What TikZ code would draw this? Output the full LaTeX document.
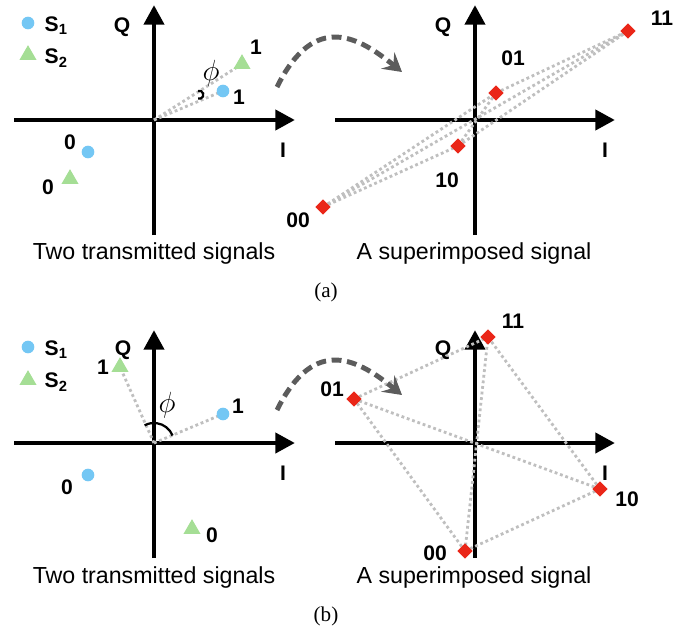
\documentclass[tikz,border=0pt]{standalone}
\usepackage{fontspec}
\setmainfont{Liberation Sans}
\newfontfamily\capfont{Liberation Serif}
\usepackage{xcolor}
\usetikzlibrary{
  arrows.meta,
  shapes.geometric,
  positioning
}
\definecolor{skyblue}{HTML}{74C7F4}
\definecolor{leafgreen}{HTML}{A5DE95}
\definecolor{symred}{HTML}{EA2618}
\definecolor{arrowgray}{HTML}{5C5C5C}
\pgfdeclarelayer{axes}
\pgfdeclarelayer{links}
\pgfsetlayers{axes,links,main}
\newcommand{\sub}[2]{#1\textsubscript{#2}}
\tikzset{
  iq axis/.style={
    line width=3.5pt, -{Triangle[length=14pt, width=14pt]}
  },
  pair line/.style={
    draw=gray!50, line width=2pt, dash pattern=on 2pt off 2pt
  },
  sig one/.style={
    circle, fill=skyblue, minimum size=9pt, inner sep=0pt
  },
  sig two/.style={
    regular polygon, regular polygon sides=3,
    fill=leafgreen, minimum size=14pt, inner sep=0pt
  },
  sym/.style={
    diamond, fill=symred, minimum size=11pt, inner sep=0pt
  },
  bit label/.style={
    font=\fontsize{15}{18}\selectfont\bfseries, inner sep=1pt
  },
  angle label/.style={
    font=\fontsize{20}{24}\selectfont, inner sep=1pt
  },
  map arrow/.style={
    -{Stealth[length=13pt, width=15pt, inset=5pt]},
    line width=3.5pt, draw=arrowgray, dash pattern=on 7pt off 4pt
  },
  caption/.style={
    font=\fontsize{16.5}{20}\selectfont
  },
}

\begin{document}
\begin{tikzpicture}[x=0.025cm, y=-0.025cm]
  \useasboundingbox (0,0) rectangle (697,631);

  % ---------------- (a) ----------------
  % Axes of both planes
  \begin{pgfonlayer}{axes}
    \draw[iq axis] (14,120) -- (295,120);
    \draw[iq axis] (154,235) -- (154,5);
    \draw[iq axis] (335,120) -- (615,120);
    \draw[iq axis] (475,235) -- (475,5);
  \end{pgfonlayer}
  \coordinate (oA) at (154,120);
  \node[bit label] (qA) at (122,27) {Q};
  \node[bit label] (iA) at (283,150) {I};
  \node[bit label] (qA2) at (443,27) {Q};
  \node[bit label] (iA2) at (605,150) {I};

  % Legend
  \node[sig one] (keyA1) at (28,23) {};
  \node[bit label, anchor=west] at (43,26) {\sub{S}{1}};
  \node[sig two] (keyA2) at (28,55) {};
  \node[bit label, anchor=west] at (43,58) {\sub{S}{2}};

  % Transmitted symbols
  \node[sig one] (sA1) at (223,91) {};
  \node[sig two] (tA1) at (242,64) {};
  \node[sig one] (sA0) at (88,152) {};
  \node[sig two] (tA0) at (70,179) {};
  \node[bit label] (lsA1) at (239,97) {1};
  \node[bit label] (ltA1) at (256,47) {1};
  \node[bit label] (lsA0) at (70,142) {0};
  \node[bit label] (ltA0) at (48,187) {0};
  \begin{pgfonlayer}{links}
    \draw[pair line] (oA) -- (sA1.center);
    \draw[pair line] (oA) -- (tA1.center);
  \end{pgfonlayer}
  \draw[line width=1.6pt] (198,91) arc[start angle=-110, end angle=110, radius=4];
  \node[angle label] (phiA) at (211,73) {$\phi$};

  % Superimposed symbols
  \node[sym] (dA11) at (628,31) {};
  \node[sym] (dA01) at (496,93) {};
  \node[sym] (dA10) at (458,146) {};
  \node[sym] (dA00) at (323,207) {};
  \node[bit label] (lA11) at (662,18) {11};
  \node[bit label] (lA01) at (513,58) {01};
  \node[bit label] (lA10) at (447,180) {10};
  \node[bit label] (lA00) at (298,220) {00};
  \begin{pgfonlayer}{links}
    \draw[pair line] (dA00.center) -- (dA01.center);
    \draw[pair line] (dA00.center) -- (dA10.center);
    \draw[pair line] (dA00.center) -- (dA11.center);
    \draw[pair line] (dA01.center) -- (dA10.center);
    \draw[pair line] (dA01.center) -- (dA11.center);
    \draw[pair line] (dA10.center) -- (dA11.center);
  \end{pgfonlayer}

  % Mapping arrow
  \coordinate (fromA) at (277,87);
  \coordinate (toA) at (402,72);
  \draw[map arrow] (fromA) .. controls (315,10) and (360,38) .. (toA);

  \node[caption] (capA1) at (154,253) {Two transmitted signals};
  \node[caption] (capA2) at (474,253) {A superimposed signal};
  \node[font=\capfont\fontsize{15}{18}\selectfont] (tagA) at (326,292) {(a)};

  % ---------------- (b) ----------------
  \begin{scope}[shift={(0,323)}]
    \begin{pgfonlayer}{axes}
      \draw[iq axis] (14,120) -- (295,120);
      \draw[iq axis] (154,235) -- (154,7);
      \draw[iq axis] (335,120) -- (615,120);
      \draw[iq axis] (475,235) -- (475,7);
    \end{pgfonlayer}
    \coordinate (oB) at (154,120);
    \node[bit label] (qB) at (123,27) {Q};
    \node[bit label] (iB) at (283,150) {I};
    \node[bit label] (qB2) at (443,27) {Q};
    \node[bit label] (iB2) at (605,150) {I};

    % Legend
    \node[sig one] (keyB1) at (28,24) {};
    \node[bit label, anchor=west] at (43,27) {\sub{S}{1}};
    \node[sig two] (keyB2) at (28,57) {};
    \node[bit label, anchor=west] at (43,59) {\sub{S}{2}};

    % Transmitted symbols
    \node[sig one] (sB1) at (223,91) {};
    \node[sig two] (tB1) at (120,44) {};
    \node[sig one] (sB0) at (88,152) {};
    \node[sig two] (tB0) at (192,206) {};
    \node[bit label] (lsB1) at (238,83) {1};
    \node[bit label] (ltB1) at (103,44) {1};
    \node[bit label] (lsB0) at (67,164) {0};
    \node[bit label] (ltB0) at (212,212) {0};
    \begin{pgfonlayer}{links}
      \draw[pair line] (oB) -- (sB1.center);
      \draw[pair line] (oB) -- (tB1.center);
    \end{pgfonlayer}
    \draw[line width=1.6pt] (oB) ++(-22:20) arc[start angle=-22, end angle=-118, radius=20];
    \node[angle label] (phiB) at (167,82) {$\phi$};

    % Superimposed symbols
    \node[sym] (dB11) at (488,14) {};
    \node[sym] (dB01) at (354,76) {};
    \node[sym] (dB10) at (600,166) {};
    \node[sym] (dB00) at (465,228) {};
    \node[bit label] (lB11) at (513,-2) {11};
    \node[bit label] (lB01) at (332,66) {01};
    \node[bit label] (lB10) at (627,176) {10};
    \node[bit label] (lB00) at (435,230) {00};
    \begin{pgfonlayer}{links}
      \draw[pair line] (dB00.center) -- (dB01.center);
      \draw[pair line] (dB00.center) -- (dB10.center);
      \draw[pair line] (dB00.center) -- (dB11.center);
      \draw[pair line] (dB01.center) -- (dB10.center);
      \draw[pair line] (dB01.center) -- (dB11.center);
      \draw[pair line] (dB10.center) -- (dB11.center);
    \end{pgfonlayer}

    % Mapping arrow
    \coordinate (fromB) at (277,87);
    \coordinate (toB) at (402,72);
    \draw[map arrow] (fromB) .. controls (315,10) and (360,38) .. (toB);

    \node[caption] (capB1) at (154,254) {Two transmitted signals};
    \node[caption] (capB2) at (474,254) {A superimposed signal};
    \node[font=\capfont\fontsize{15}{18}\selectfont] (tagB) at (326,293) {(b)};
  \end{scope}
\end{tikzpicture}
\end{document}
